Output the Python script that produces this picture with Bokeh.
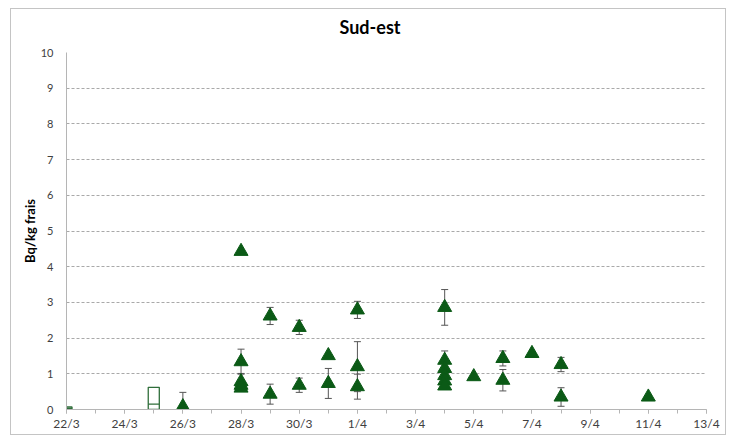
import pandas as pd
from bokeh.plotting import figure
from bokeh.models import ColumnDataSource, Range1d, FixedTicker, Whisker, TeeHead, Title
from bokeh.embed import file_html
from bokeh.resources import INLINE

# ---- data ----
tick_labels = ["22/3", "24/3", "26/3", "28/3", "30/3", "1/4", "3/4", "5/4", "7/4", "9/4", "11/4", "13/4"]
tri_dates = ["26/3", "28/3", "28/3", "28/3", "28/3", "28/3", "29/3", "29/3", "30/3", "30/3",
             "31/3", "31/3", "1/4", "1/4", "1/4", "4/4", "4/4", "4/4", "4/4", "4/4", "4/4",
             "5/4", "6/4", "6/4", "7/4", "8/4", "8/4", "11/4"]
tri_values = [0.08, 4.43, 1.34, 0.78, 0.68, 0.60, 2.62, 0.43, 2.30, 0.68,
              1.51, 0.73, 2.79, 1.20, 0.64, 2.86, 1.38, 1.15, 0.95, 0.80, 0.66,
              0.92, 1.43, 0.82, 1.57, 1.26, 0.35, 0.35]
tri_errors = [0.40, 0.0, 0.35, 0.23, 0.0, 0.0, 0.24, 0.28, 0.20, 0.20,
              0.0, 0.42, 0.24, 0.70, 0.35, 0.50, 0.26, 0.0, 0.0, 0.0, 0.0,
              0.0, 0.21, 0.30, 0.0, 0.20, 0.26, 0.0]
box_dates = ["22/3", "25/3"]
box_tops = [0.07, 0.62]
box_mids = [0.03, 0.15]

def day(s):
    d, m = map(int, s.split("/"))
    return (pd.Timestamp(2011, m, d) - pd.Timestamp(2011, 3, 22)).days

GREEN = "#0b5a16"
FONT = "Lato"

p = figure(width=716, height=427, output_backend="svg", toolbar_location=None,
           x_range=Range1d(0, 22), y_range=Range1d(0, 10),
           min_border_left=55, min_border_right=21, min_border_top=42, min_border_bottom=27)
p.styles = {"border": "1px solid #c4c4c4", "margin-left": "10px", "margin-top": "8px"}
p.outline_line_color = None
p.background_fill_color = "white"
p.border_fill_color = "white"

# spacer between title and frame
p.add_layout(Title(text=" ", text_font_size="4px", standoff=4), "above")

p.title.text = "Sud-est"
p.title.text_font = FONT
p.title.text_font_size = "18px"
p.title.text_font_style = "bold"
p.title.align = "left"
p.title.offset = 273
p.title.standoff = 8
p.title.text_color = "#000000"

# grids
p.xgrid.grid_line_color = None
p.ygrid.grid_line_color = "#a9a9a9"
p.ygrid.grid_line_dash = "3 2"
p.ygrid.grid_line_width = 1

# x axis
tick_pos = [day(s) for s in tick_labels]
p.xaxis.ticker = FixedTicker(ticks=tick_pos, minor_ticks=list(range(0, 23)))
p.xaxis.major_label_overrides = {d: s for d, s in zip(tick_pos, tick_labels)}
p.xaxis.axis_line_color = "#b5b5b5"
p.xaxis.axis_line_width = 1
p.xaxis.major_tick_line_color = "#b5b5b5"
p.xaxis.minor_tick_line_color = "#b5b5b5"
p.xaxis.major_tick_in = 0
p.xaxis.major_tick_out = 4
p.xaxis.minor_tick_in = 0
p.xaxis.minor_tick_out = 4
p.xaxis.major_label_standoff = 2
p.xaxis.major_label_text_font = FONT
p.xaxis.major_label_text_font_size = "12px"
p.xaxis.major_label_text_color = "#404040"

# y axis
p.yaxis.ticker = FixedTicker(ticks=list(range(0, 11)))
p.yaxis.axis_line_color = "#b5b5b5"
p.yaxis.axis_line_width = 1
p.yaxis.major_tick_line_color = None
p.yaxis.minor_tick_line_color = None
p.yaxis.major_tick_out = 0
p.yaxis.major_label_standoff = 13
p.yaxis.major_label_text_font = FONT
p.yaxis.major_label_text_font_size = "11px"
p.yaxis.major_label_text_color = "#404040"
p.yaxis.axis_label = "Bq/kg frais"
p.yaxis.axis_label_text_font = FONT
p.yaxis.axis_label_text_font_size = "13px"
p.yaxis.axis_label_text_font_style = "bold"
p.yaxis.axis_label_standoff = 0
p.yaxis.axis_label_text_color = "#000000"

# boxes (open rectangles)
bx = [day(s) for s in box_dates]
p.rect(x=bx, y=[t / 2 for t in box_tops], width=0.38, height=box_tops,
       fill_color=None, line_color="#2f6e3a", line_width=1.3)
p.segment(x0=[x - 0.19 for x in bx], x1=[x + 0.19 for x in bx], y0=box_mids, y1=box_mids,
          line_color="#2f6e3a", line_width=1.3)

# error bars
ex = [day(d) for d, e in zip(tri_dates, tri_errors) if e > 0]
ev = [v for v, e in zip(tri_values, tri_errors) if e > 0]
ee = [e for e in tri_errors if e > 0]
esrc = ColumnDataSource(dict(x=ex, lo=[v - e for v, e in zip(ev, ee)], hi=[v + e for v, e in zip(ev, ee)]))
w = Whisker(base="x", lower="lo", upper="hi", source=esrc, line_color="#555555", line_width=1,
            upper_head=TeeHead(size=7, line_color="#555555", line_width=1),
            lower_head=TeeHead(size=7, line_color="#555555", line_width=1))
p.add_layout(w)

# triangles
tsrc = ColumnDataSource(dict(x=[day(s) for s in tri_dates], y=tri_values))
p.scatter("x", "y", source=tsrc, marker="triangle", size=14, fill_color=GREEN, line_color=GREEN)

open("out.html", "w").write(file_html(p, INLINE))
